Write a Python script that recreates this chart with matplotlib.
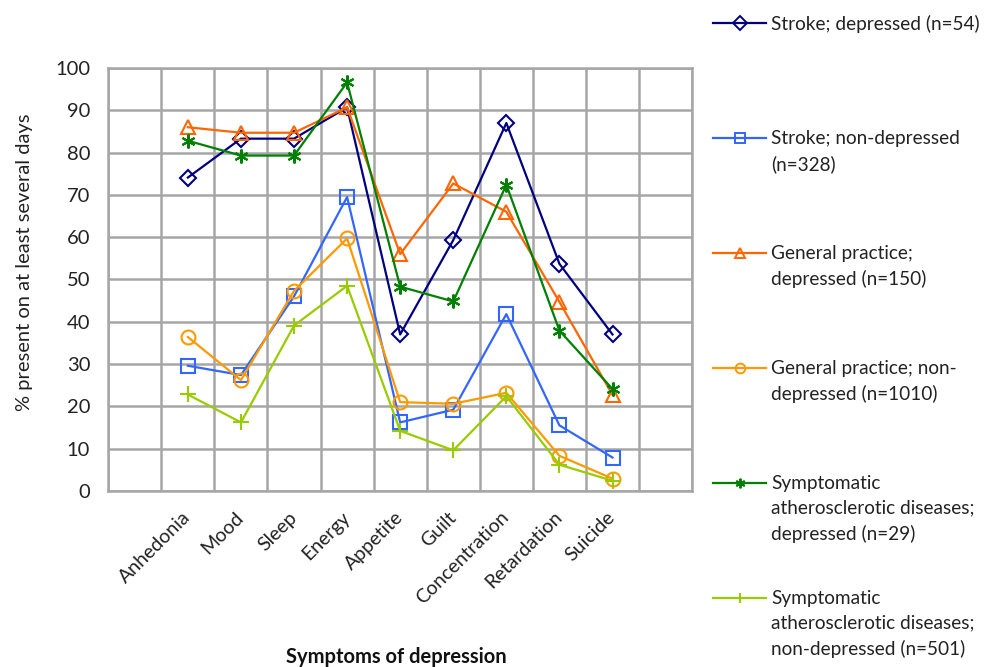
import numpy as np
import matplotlib.pyplot as plt
from matplotlib.lines import Line2D

plt.rcParams['font.family'] = ['Lato', 'DejaVu Sans']

# symptom categories (an empty slot sits before the first and after the last)
symptoms = ['Anhedonia', 'Mood', 'Sleep', 'Energy', 'Appetite', 'Guilt',
            'Concentration', 'Retardation', 'Suicide']

stroke_dep = [74.1, 83.3, 83.3, 90.7, 37.0, 59.3, 87.0, 53.7, 37.0]
stroke_nondep = [29.6, 27.4, 46.0, 69.5, 16.2, 19.2, 41.8, 15.5, 7.9]
gp_dep = [86.0, 84.7, 84.7, 90.7, 56.0, 72.7, 66.0, 44.7, 22.7]
gp_nondep = [36.4, 26.2, 47.3, 59.7, 21.0, 20.6, 23.2, 8.3, 2.9]
sad_dep = [82.8, 79.3, 79.3, 96.6, 48.3, 44.8, 72.4, 37.9, 24.1]
sad_nondep = [22.8, 16.2, 39.1, 48.5, 14.2, 9.6, 22.4, 6.2, 2.4]

labels = ['Stroke; depressed (n=54)',
          'Stroke; non-depressed\n(n=328)',
          'General practice;\ndepressed (n=150)',
          'General practice; non-\ndepressed (n=1010)',
          'Symptomatic\natherosclerotic diseases;\ndepressed (n=29)',
          'Symptomatic\natherosclerotic diseases;\nnon-depressed (n=501)']

series = [stroke_dep, stroke_nondep, gp_dep, gp_nondep, sad_dep, sad_nondep]
colors = ['#000080', '#3366FF', '#FF6600', '#FF9900', '#008000', '#99CC00']
markers = ['D', 's', '^', 'o', (6, 2, 0), '+']
msizes = [8, 10, 10, 10, 10, 11]

fig = plt.figure(figsize=(9.93, 6.67), dpi=100)
ax = fig.add_axes([0.109, 0.264, 0.588, 0.634])

x = np.arange(1, len(symptoms) + 1)
grid_col = '#A6A6A6'
txt_col = '#222222'

for vals, c, m, ms in zip(series, colors, markers, msizes):
    ax.plot(x, vals, color=c, lw=1.6, marker=m, ms=ms, mfc='none',
            mec=c, mew=1.5, zorder=3)

ax.set_xlim(-0.5, len(symptoms) + 1.5)
ax.set_ylim(0, 100)
ax.set_yticks(np.arange(0, 101, 10))
ax.set_xticks(x)
ax.set_xticklabels(symptoms, rotation=45, ha='right', va='center',
                   rotation_mode='anchor', fontsize=14, color=txt_col)
ax.set_xticks(np.arange(-0.5, len(symptoms) + 2, 1), minor=True)
ax.tick_params(axis='x', which='both', length=0, pad=17)
ax.tick_params(axis='y', length=0, pad=13, labelsize=14.5, labelcolor=txt_col)

ax.grid(False)
ax.xaxis.grid(True, which='minor', color=grid_col, lw=1.8)
ax.yaxis.grid(True, which='major', color=grid_col, lw=1.8)
for s in ax.spines.values():
    s.set_color(grid_col)
    s.set_linewidth(1.8)

ax.set_ylabel('% present on at least several days', fontsize=14.5,
              color=txt_col)
ax.yaxis.set_label_coords(-0.128, 0.54)
fig.text(0.399, 0.015, 'Symptoms of depression', ha='center', va='center',
         fontsize=14.5, fontweight='bold', color='#111111')

# legend drawn by hand on the right, evenly spaced entries
W, H = 993, 667
for i, (lab, c, m, ms) in enumerate(zip(labels, colors, markers, msizes)):
    ytop = 23 + 115 * i
    yf = 1 - ytop / H
    fig.add_artist(Line2D([713 / W, 766 / W], [yf, yf], color=c, lw=1.6,
                          transform=fig.transFigure))
    fig.add_artist(Line2D([740 / W], [yf], color=c, marker=m,
                          ms=7, mfc='none', mec=c, mew=1.4,
                          transform=fig.transFigure))
    fig.text(771 / W, yf + 8 / H, lab, ha='left', va='top', fontsize=13.7,
             color=txt_col, linespacing=1.55)

fig.savefig('out.png', dpi=100, facecolor='white')
